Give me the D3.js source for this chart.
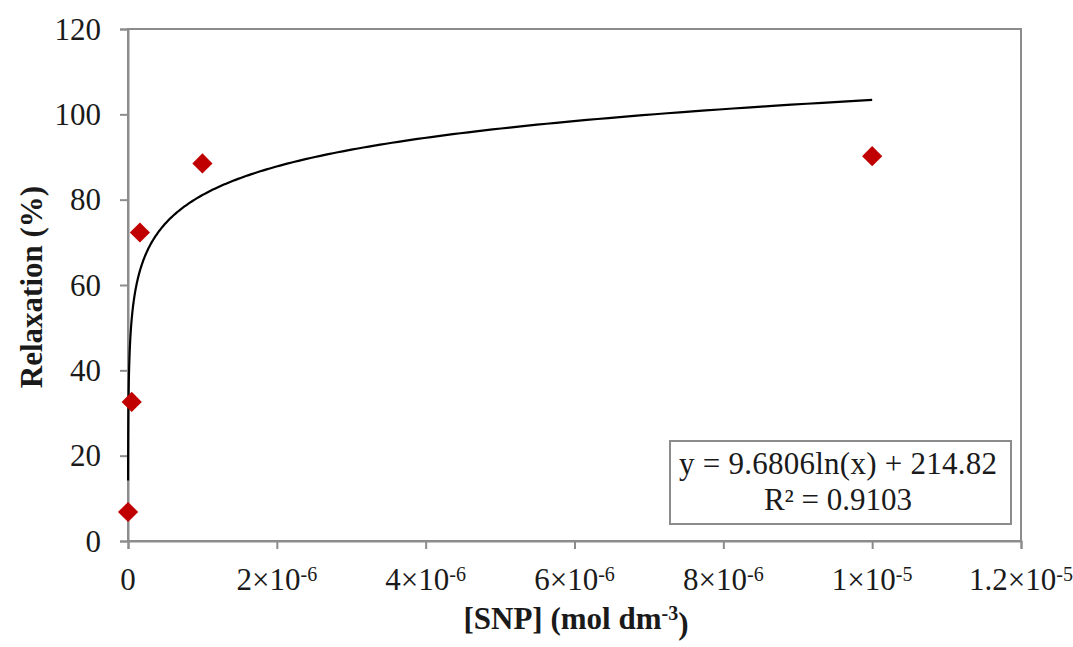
<!DOCTYPE html>
<html>
<head>
<meta charset="utf-8">
<script src="https://cdn.jsdelivr.net/npm/d3@7"></script>
<style>
  body { margin: 0; background: #fff; }
  svg text { font-family: "Liberation Serif", "Times New Roman", serif; fill: #1a1a1a; }
</style>
</head>
<body>
<svg id="chart" width="1073" height="647"></svg>
<script>
// measured points: SNP concentration (mol dm-3) vs relaxation (%)
const concentrations = [1e-9, 5e-8, 1.6e-7, 1e-6, 1e-5];
const relaxation = [6.8, 32.6, 72.3, 88.5, 90.2];

// logarithmic trendline as printed on the chart
const trendSlope = 9.6806;
const trendIntercept = 214.82;
const trendRange = [1e-9, 1e-5];
const trendLabel = `y = 9.6806ln(x) + 214.82`;
const r2Label = `R² = 0.9103`;

const xTicks = [0, 2e-6, 4e-6, 6e-6, 8e-6, 1e-5, 1.2e-5];
const xTickMantissa = [`0`, `2`, `4`, `6`, `8`, `1`, `1.2`];
const xTickExp = [``, `-6`, `-6`, `-6`, `-6`, `-5`, `-5`];
const yTicks = [0, 20, 40, 60, 80, 100, 120];

const margin = {top: 29, right: 52, bottom: 106, left: 128};
const width = 1073;
const height = 647;

const svg = d3.select(`#chart`);

const x = d3.scaleLinear()
  .domain([0, 1.2e-5])
  .range([margin.left, width - margin.right]);

const y = d3.scaleLinear()
  .domain([0, 120])
  .range([height - margin.bottom, margin.top]);

const axisColor = `#8c8c8c`;

// plot frame (top + right)
svg.append(`rect`)
  .attr(`x`, x(0))
  .attr(`y`, y(120))
  .attr(`width`, x(1.2e-5) - x(0))
  .attr(`height`, y(0) - y(120))
  .attr(`fill`, `none`)
  .attr(`stroke`, axisColor)
  .attr(`stroke-width`, 2);

// y axis
const yAxis = svg.append(`g`)
  .attr(`transform`, `translate(${x(0)},0)`)
  .call(d3.axisLeft(y).tickValues(yTicks).tickSize(8).tickPadding(19).tickFormat(d3.format(`d`)));
yAxis.select(`.domain`).attr(`stroke`, axisColor).attr(`stroke-width`, 2);
yAxis.selectAll(`.tick line`).attr(`stroke`, axisColor).attr(`stroke-width`, 2);
yAxis.selectAll(`.tick text`)
  .attr(`font-size`, `31px`)
  .attr(`fill`, `#1a1a1a`)
  .attr(`dy`, `.33em`);

// x axis
const xAxis = svg.append(`g`)
  .attr(`transform`, `translate(0,${y(0)})`)
  .call(d3.axisBottom(x).tickValues(xTicks).tickSize(8).tickFormat(``));
xAxis.select(`.domain`).attr(`stroke`, axisColor).attr(`stroke-width`, 2);
xAxis.selectAll(`.tick line`).attr(`stroke`, axisColor).attr(`stroke-width`, 2);

const xLab = svg.append(`g`).selectAll(`text`)
  .data(xTicks)
  .enter().append(`text`)
  .attr(`x`, d => x(d))
  .attr(`y`, y(0) + 49)
  .attr(`text-anchor`, `middle`)
  .attr(`font-size`, `31px`);

xLab.each(function (d, i) {
  const t = d3.select(this);
  if (!xTickExp[i]) {
    t.text(xTickMantissa[i]);
    return;
  }
  t.append(`tspan`).text(`${xTickMantissa[i]}×10`);
  t.append(`tspan`)
    .attr(`dy`, `-0.45em`)
    .attr(`font-size`, `20px`)
    .text(xTickExp[i]);
});

// trendline
const trendX = d3.range(0, 401).map(i => {
  const lo = Math.log(trendRange[0]);
  const hi = Math.log(trendRange[1]);
  return Math.exp(lo + (hi - lo) * i / 400);
});

const line = d3.line()
  .x(d => x(d))
  .y(d => y(trendSlope * Math.log(d) + trendIntercept));

svg.append(`path`)
  .datum(trendX)
  .attr(`d`, line)
  .attr(`fill`, `none`)
  .attr(`stroke`, `#000`)
  .attr(`stroke-width`, 2.2);

// data points (diamonds)
const diamond = d3.symbol().type(d3.symbolDiamond2).size(260);
svg.append(`g`).selectAll(`path`)
  .data(concentrations)
  .enter().append(`path`)
  .attr(`d`, diamond)
  .attr(`transform`, (d, i) => `translate(${x(d)},${y(relaxation[i])})`)
  .attr(`fill`, `#c00000`);

// equation box
const box = svg.append(`g`);
box.append(`rect`)
  .attr(`x`, 670)
  .attr(`y`, 441)
  .attr(`width`, 341)
  .attr(`height`, 83)
  .attr(`fill`, `#fff`)
  .attr(`stroke`, axisColor)
  .attr(`stroke-width`, 2);
box.append(`text`)
  .attr(`x`, 838)
  .attr(`y`, 474)
  .attr(`text-anchor`, `middle`)
  .attr(`font-size`, `31px`)
  .attr(`textLength`, 318)
  .text(trendLabel);
box.append(`text`)
  .attr(`x`, 838)
  .attr(`y`, 510)
  .attr(`text-anchor`, `middle`)
  .attr(`font-size`, `31px`)
  .text(r2Label);

// axis titles
svg.append(`text`)
  .attr(`transform`, `translate(42,287) rotate(-90)`)
  .attr(`text-anchor`, `middle`)
  .attr(`font-size`, `31px`)
  .attr(`font-weight`, `bold`)
  .text(`Relaxation (%)`);

const xTitle = svg.append(`text`)
  .attr(`x`, 576)
  .attr(`y`, 629)
  .attr(`text-anchor`, `middle`)
  .attr(`font-size`, `31px`)
  .attr(`font-weight`, `bold`);
xTitle.append(`tspan`).text(`[SNP] (mol dm`);
xTitle.append(`tspan`).attr(`dy`, `-0.45em`).attr(`font-size`, `20px`).text(`-3`);
xTitle.append(`tspan`).attr(`dy`, `0.45em`).text(`)`);
</script>
</body>
</html>
